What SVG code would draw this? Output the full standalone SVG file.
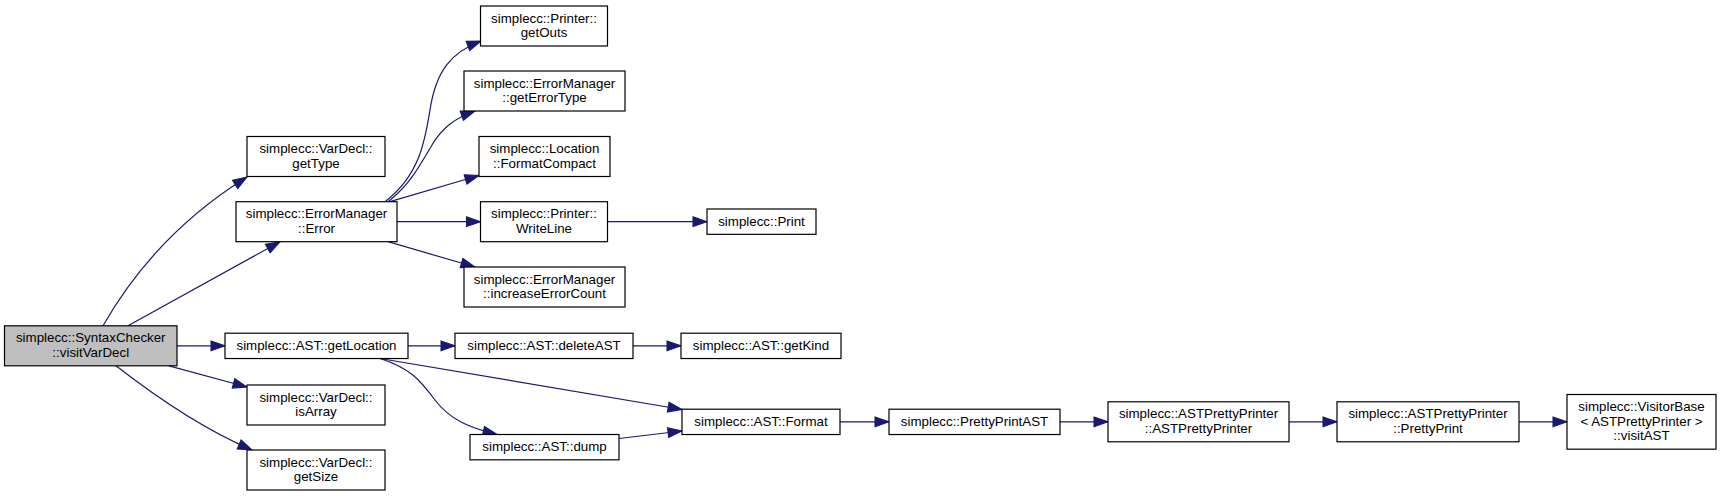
<svg xmlns="http://www.w3.org/2000/svg" width="1721" height="496" viewBox="0 0 1721 496">
<style>
.n rect{fill:#fff;stroke:#000;stroke-width:1.2}
.n.root rect{fill:#bfbfbf}
.n text{font-family:"Liberation Sans",Arial,sans-serif;font-size:13.33px;fill:#000;text-anchor:middle}
.e path{fill:none;stroke:#191970;stroke-width:1.2;marker-end:url(#ah)}
</style>
<defs>
<marker id="ah" markerUnits="userSpaceOnUse" markerWidth="14" markerHeight="10" refX="13.3" refY="4.67" orient="auto" viewBox="0 0 13.3 9.33" overflow="visible">
<path d="M0,0 L13.3,4.67 L0,9.33 z" fill="#191970" stroke="#191970" stroke-width="1"/>
</marker>
</defs>
<rect width="1721" height="496" fill="#fff"/>
<g id="edges" class="e">
<path d="M103,325.8 C128,282 170,225 247,177"/>
<path d="M128,325.8 L280,241.7"/>
<path d="M177,345.8 L225,345.8"/>
<path d="M169,365.8 L247,387"/>
<path d="M116,365.8 C160,400 205,430 252,450"/>
<path d="M385,201.7 C420,175 425,140 430,110 C436,70 452,52 481,41"/>
<path d="M388,201.7 C410,185 420,165 432,145 C442,128 455,118 475,111"/>
<path d="M390,201.7 L479,175.5"/>
<path d="M397,221.7 L480.5,221.7"/>
<path d="M388,241.7 L475,267"/>
<path d="M607.5,221.7 L707,221.7"/>
<path d="M408,345.8 L455,345.8"/>
<path d="M633,345.8 L681,345.8"/>
<path d="M380,358.5 L682,409.5"/>
<path d="M380,358.5 C410,368 420,380 435,400 C450,420 470,428 497,434.5"/>
<path d="M619,438.5 L682,431"/>
<path d="M840,421.8 L889,421.8"/>
<path d="M1060,421.8 L1108,421.8"/>
<path d="M1289,421.8 L1337,421.8"/>
<path d="M1519,421.8 L1567,421.8"/>
</g>
<g id="node1" class="n root"><rect x="4.5" y="325.8" width="172.5" height="40"/><text x="90.75" y="342.3">simplecc::SyntaxChecker</text><text x="90.75" y="356.8">::visitVarDecl</text></g>
<g id="node2" class="n"><rect x="247" y="136.5" width="138" height="40"/><text x="316" y="153">simplecc::VarDecl::</text><text x="316" y="167.5">getType</text></g>
<g id="node3" class="n"><rect x="236" y="201.7" width="161" height="40"/><text x="316.5" y="218.2">simplecc::ErrorManager</text><text x="316.5" y="232.7">::Error</text></g>
<g id="node4" class="n"><rect x="225" y="333.2" width="183" height="25.33"/><text x="316.5" y="350">simplecc::AST::getLocation</text></g>
<g id="node5" class="n"><rect x="247" y="385" width="138" height="40"/><text x="316" y="401.5">simplecc::VarDecl::</text><text x="316" y="416">isArray</text></g>
<g id="node6" class="n"><rect x="247" y="450" width="138" height="40"/><text x="316" y="466.5">simplecc::VarDecl::</text><text x="316" y="481">getSize</text></g>
<g id="node7" class="n"><rect x="480.5" y="6" width="127" height="40"/><text x="544" y="22.5">simplecc::Printer::</text><text x="544" y="37">getOuts</text></g>
<g id="node8" class="n"><rect x="464" y="71" width="161" height="40"/><text x="544.5" y="87.5">simplecc::ErrorManager</text><text x="544.5" y="102">::getErrorType</text></g>
<g id="node9" class="n"><rect x="479" y="136.5" width="131" height="40"/><text x="544.5" y="153">simplecc::Location</text><text x="544.5" y="167.5">::FormatCompact</text></g>
<g id="node10" class="n"><rect x="480.5" y="201.7" width="127" height="40"/><text x="544" y="218.2">simplecc::Printer::</text><text x="544" y="232.7">WriteLine</text></g>
<g id="node11" class="n"><rect x="464" y="267" width="161" height="40"/><text x="544.5" y="283.5">simplecc::ErrorManager</text><text x="544.5" y="298">::increaseErrorCount</text></g>
<g id="node12" class="n"><rect x="455" y="333.2" width="178" height="25.33"/><text x="544" y="350">simplecc::AST::deleteAST</text></g>
<g id="node13" class="n"><rect x="470" y="434.5" width="149" height="25.33"/><text x="544.5" y="451.4">simplecc::AST::dump</text></g>
<g id="node14" class="n"><rect x="707" y="209" width="109" height="25.33"/><text x="761.5" y="225.9">simplecc::Print</text></g>
<g id="node15" class="n"><rect x="681" y="333.2" width="160" height="25.33"/><text x="761" y="350">simplecc::AST::getKind</text></g>
<g id="node16" class="n"><rect x="682" y="409.2" width="158" height="25.33"/><text x="761" y="426">simplecc::AST::Format</text></g>
<g id="node17" class="n"><rect x="889" y="409.2" width="171" height="25.33"/><text x="974.5" y="426">simplecc::PrettyPrintAST</text></g>
<g id="node18" class="n"><rect x="1108" y="401.8" width="181" height="40"/><text x="1198.5" y="418.3">simplecc::ASTPrettyPrinter</text><text x="1198.5" y="432.8">::ASTPrettyPrinter</text></g>
<g id="node19" class="n"><rect x="1337" y="401.8" width="182" height="40"/><text x="1428" y="418.3">simplecc::ASTPrettyPrinter</text><text x="1428" y="432.8">::PrettyPrint</text></g>
<g id="node20" class="n"><rect x="1567" y="394.5" width="149" height="54.67"/><text x="1641.5" y="410.8">simplecc::VisitorBase</text><text x="1641.5" y="425.5">&lt; ASTPrettyPrinter &gt;</text><text x="1641.5" y="440.2">::visitAST</text></g>
</svg>
